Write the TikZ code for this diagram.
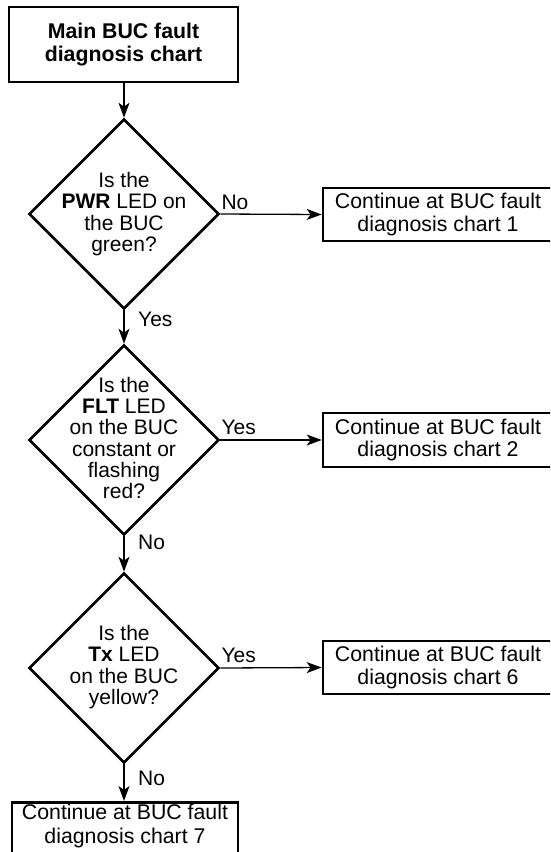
\documentclass[tikz,border=0pt]{standalone}
\usepackage{fontspec}
\setmainfont{Liberation Sans}
\usetikzlibrary{shapes.geometric,arrows.meta}
\begin{document}
\begin{tikzpicture}[x=1pt,y=-1pt,
  flowbox/.style={draw=black, line width=2.7pt, rectangle, inner sep=0pt, align=center},
  boxfont/.style={font=\fontsize{21.3}{22.5}\selectfont},
  dia/.style={draw=black, line width=2.6pt, diamond, aspect=1, inner sep=0pt, minimum width=190pt, minimum height=190pt},
  qtext/.style={align=center, inner sep=0pt, font=\fontsize{21}{21.2}\selectfont},
  lab/.style={inner sep=0pt, anchor=base west, font=\fontsize{21}{21.2}\selectfont},
  conn/.style={line width=1.3pt, -{Stealth[length=15pt,width=11pt,inset=4pt]}},
]
\useasboundingbox (0,0) rectangle (550,852);
\clip (0,0) rectangle (550,852);

% start box
\node[flowbox, minimum width=229pt, minimum height=75pt, font=\fontsize{21.3}{22.5}\selectfont\bfseries] (top) at (123.5,44.5) {Main BUC fault\\diagnosis chart};

% decisions
\node[dia] (d1) at (124,214) {};
\node[qtext] (d1t) at (d1.center) {Is the\\\textbf{PWR} LED on\\the BUC\\green?};
\node[dia] (d2) at (124,440) {};
\node[qtext] (d2t) at ([yshift=2pt]d2.center) {Is the\\\textbf{FLT} LED\\on the BUC\\constant or\\flashing\\red?};
\node[dia] (d3) at (124,668) {};
\node[qtext] (d3t) at ([yshift=1pt]d3.center) {Is the\\\textbf{Tx} LED\\on the BUC\\yellow?};

% outcome boxes
\node[flowbox, boxfont, minimum width=230pt, minimum height=53pt] (b1) at (438,214.5) {Continue at BUC fault\\diagnosis chart 1};
\node[flowbox, boxfont, minimum width=230pt, minimum height=54pt] (b2) at (438,440) {Continue at BUC fault\\diagnosis chart 2};
\node[flowbox, boxfont, minimum width=230pt, minimum height=53pt] (b3) at (438,667.5) {Continue at BUC fault\\diagnosis chart 6};
\node[flowbox, minimum width=226pt, minimum height=70pt, anchor=north] (b4) at (125,801) {};
\node[qtext, font=\fontsize{21.3}{24}\selectfont] (b4t) at (125,826) {Continue at BUC fault\\diagnosis chart 7};

% connectors
\draw[conn] (top.south -| d1.north) -- (d1.north);
\draw[conn] (d1.east) -- (b1.west);
\draw[conn] (d1.south) -- (d2.north);
\draw[conn] (d2.east) -- (b2.west);
\draw[conn] (d2.south) -- (d3.north);
\draw[conn] (d3.east) -- (b3.west);
\draw[conn] (d3.south) -- (d3.south |- b4.north);

% labels
\node[lab] (l1) at ([xshift=1pt,yshift=5pt]d1.east) {No};
\node[lab] (l2) at ([xshift=14pt,yshift=-16pt]d1.south) {Yes};
\node[lab] (l3) at ([xshift=1pt,yshift=6pt]d2.east) {Yes};
\node[lab] (l4) at ([xshift=14pt,yshift=-13pt]d2.south) {No};
\node[lab] (l5) at ([xshift=1pt,yshift=6pt]d3.east) {Yes};
\node[lab] (l6) at ([xshift=14pt,yshift=-21pt]d3.south) {No};
\end{tikzpicture}
\end{document}
